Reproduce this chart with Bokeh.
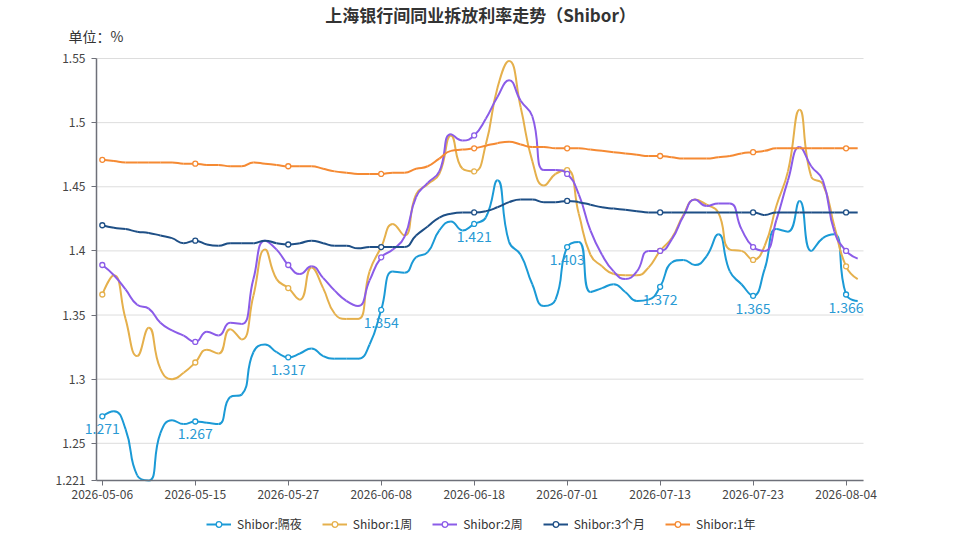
import math
from bokeh.plotting import figure
from bokeh.models import Range1d, FixedTicker, Legend, LegendItem, Label, LinearAxis, ColumnDataSource
from bokeh.core.properties import value
from bokeh.embed import file_html
from bokeh.resources import INLINE

# trading days shown on the chart
dates = [
    "2026-05-06", "2026-05-07", "2026-05-08", "2026-05-09", "2026-05-11", "2026-05-12", "2026-05-13", "2026-05-14",
    "2026-05-15", "2026-05-18", "2026-05-19", "2026-05-20", "2026-05-21", "2026-05-22", "2026-05-25", "2026-05-26",
    "2026-05-27", "2026-05-28", "2026-05-29", "2026-06-01", "2026-06-02", "2026-06-03", "2026-06-04", "2026-06-05",
    "2026-06-08", "2026-06-09", "2026-06-10", "2026-06-11", "2026-06-12", "2026-06-15", "2026-06-16", "2026-06-17",
    "2026-06-18", "2026-06-22", "2026-06-23", "2026-06-24", "2026-06-25", "2026-06-26", "2026-06-29", "2026-06-30",
    "2026-07-01", "2026-07-02", "2026-07-03", "2026-07-06", "2026-07-07", "2026-07-08", "2026-07-09", "2026-07-10",
    "2026-07-13", "2026-07-14", "2026-07-15", "2026-07-16", "2026-07-17", "2026-07-20", "2026-07-21", "2026-07-22",
    "2026-07-23", "2026-07-24", "2026-07-27", "2026-07-28", "2026-07-29", "2026-07-30", "2026-07-31", "2026-08-03",
    "2026-08-04", "2026-08-05",
]

overnight = [
    1.271, 1.275, 1.261, 1.225, 1.221, 1.258, 1.268, 1.265,
    1.267, 1.266, 1.265, 1.286, 1.288, 1.321, 1.327, 1.321,
    1.317, 1.320, 1.324, 1.318, 1.316, 1.316, 1.316, 1.327,
    1.354, 1.384, 1.383, 1.395, 1.399, 1.416, 1.423, 1.416,
    1.421, 1.426, 1.455, 1.407, 1.397, 1.374, 1.357, 1.362,
    1.403, 1.407, 1.368, 1.371, 1.374, 1.368, 1.361, 1.362,
    1.372, 1.391, 1.393, 1.389, 1.396, 1.413, 1.384, 1.374,
    1.365, 1.386, 1.417, 1.415, 1.439, 1.400, 1.410, 1.413,
    1.366, 1.361,
]
one_week = [
    1.366, 1.381, 1.347, 1.318, 1.340, 1.308, 1.300, 1.305,
    1.313, 1.323, 1.320, 1.339, 1.331, 1.365, 1.401, 1.378,
    1.371, 1.362, 1.387, 1.371, 1.351, 1.347, 1.347, 1.384,
    1.403, 1.421, 1.412, 1.444, 1.452, 1.460, 1.490, 1.464,
    1.462, 1.483, 1.527, 1.548, 1.512, 1.470, 1.451, 1.460,
    1.463, 1.429, 1.397, 1.388, 1.382, 1.381, 1.381, 1.387,
    1.400, 1.410, 1.428, 1.440, 1.436, 1.430, 1.401, 1.400,
    1.393, 1.404, 1.435, 1.462, 1.510, 1.458, 1.452, 1.419,
    1.388, 1.378,
]
two_week = [
    1.389, 1.381, 1.370, 1.358, 1.355, 1.344, 1.338, 1.334,
    1.329, 1.337, 1.334, 1.344, 1.343, 1.378, 1.408, 1.401,
    1.389, 1.382, 1.388, 1.379, 1.369, 1.361, 1.357, 1.377,
    1.395, 1.401, 1.411, 1.442, 1.453, 1.462, 1.491, 1.486,
    1.490, 1.503, 1.520, 1.533, 1.517, 1.505, 1.463, 1.463,
    1.460, 1.444, 1.416, 1.397, 1.384, 1.378, 1.384, 1.400,
    1.400, 1.409, 1.427, 1.440, 1.435, 1.437, 1.437, 1.417,
    1.403, 1.400, 1.424, 1.455, 1.481, 1.466, 1.455, 1.415,
    1.400, 1.394,
]
three_month = [
    1.420, 1.418, 1.417, 1.415, 1.414, 1.412, 1.410, 1.406,
    1.408, 1.405, 1.404, 1.406, 1.406, 1.406, 1.408, 1.406,
    1.405, 1.406, 1.408, 1.406, 1.404, 1.404, 1.402, 1.403,
    1.403, 1.403, 1.403, 1.412, 1.419, 1.426, 1.429, 1.430,
    1.430, 1.431, 1.434, 1.438, 1.440, 1.440, 1.438, 1.438,
    1.439, 1.438, 1.436, 1.434, 1.433, 1.432, 1.431, 1.430,
    1.430, 1.430, 1.430, 1.430, 1.430, 1.430, 1.430, 1.430,
    1.430, 1.428, 1.430, 1.430, 1.430, 1.430, 1.430, 1.430,
    1.430, 1.430,
]
one_year = [
    1.471, 1.470, 1.469, 1.469, 1.469, 1.469, 1.469, 1.468,
    1.468, 1.467, 1.467, 1.466, 1.466, 1.469, 1.468, 1.467,
    1.466, 1.466, 1.466, 1.464, 1.462, 1.461, 1.460, 1.460,
    1.460, 1.461, 1.461, 1.464, 1.466, 1.472, 1.478, 1.479,
    1.480, 1.482, 1.484, 1.485, 1.483, 1.481, 1.481, 1.480,
    1.480, 1.480, 1.479, 1.478, 1.477, 1.476, 1.475, 1.474,
    1.474, 1.473, 1.472, 1.472, 1.472, 1.473, 1.474, 1.476,
    1.477, 1.478, 1.480, 1.480, 1.480, 1.480, 1.480, 1.480,
    1.480, 1.480,
]

y_ticks = [1.221, 1.25, 1.3, 1.35, 1.4, 1.45, 1.5, 1.55]
y_tick_labels = ["1.221", "1.25", "1.3", "1.35", "1.4", "1.45", "1.5", "1.55"]

series = [
    ("Shibor:隔夜", overnight, "#1b9ad6"),
    ("Shibor:1周", one_week, "#e5b04c"),
    ("Shibor:2周", two_week, "#8b5ce8"),
    ("Shibor:3个月", three_month, "#1e4f86"),
    ("Shibor:1年", one_year, "#f58a33"),
]

STEP = 8          # every 8th day gets a tick, a marker and a label
FONT = "Noto Sans CJK SC"
W, H = 959, 540
# plot box inside the canvas (left, right, top, bottom in px)
BOX_L, BOX_R, BOX_T, BOX_B = 96, 863, 58, 480

n = len(dates)
y_lo, y_hi = y_ticks[0], y_ticks[-1]
SX = (BOX_R - BOX_L) / n            # px per day
SY = (BOX_B - BOX_T) / (y_hi - y_lo)  # px per percent
x_start = -0.5 - BOX_L / SX
x_end = n - 0.5 + (W - BOX_R) / SX
y_end = y_hi + BOX_T / SY
y_start = y_lo - (H - BOX_B) / SY


def px(xpix):
    return x_start + xpix / SX


def py(ypix):
    return y_end - ypix / SY


def smooth_segments(ys, smooth=0.5):
    """bezier control points like an echarts smooth line"""
    m = len(ys)
    xs = list(range(m))
    c_out = [(xs[i], ys[i]) for i in range(m)]
    c_in = [(xs[i], ys[i]) for i in range(m)]
    for k in range(1, m - 1):
        x, y = xs[k], ys[k]
        ppx, ppy = xs[k - 1], ys[k - 1]
        nx, ny = xs[k + 1], ys[k + 1]
        vx, vy = nx - ppx, ny - ppy
        l0 = math.hypot((x - ppx) * SX, (y - ppy) * SY)
        l1 = math.hypot((nx - x) * SX, (ny - y) * SY)
        r = l1 / (l0 + l1)
        ncx = x + vx * smooth * r
        ncy = y + vy * smooth * r
        ncx = max(min(ncx, max(nx, x)), min(nx, x))
        ncy = max(min(ncy, max(ny, y)), min(ny, y))
        vx, vy = ncx - x, ncy - y
        pcx = x - vx * l0 / l1
        pcy = y - vy * l0 / l1
        pcx = max(min(pcx, max(ppx, x)), min(ppx, x))
        pcy = max(min(pcy, max(ppy, y)), min(ppy, y))
        vx, vy = x - pcx, y - pcy
        ncx = x + vx * l1 / l0
        ncy = y + vy * l1 / l0
        c_in[k] = (pcx, pcy)
        c_out[k] = (ncx, ncy)
    return dict(
        x0=xs[:-1], y0=ys[:-1], x1=xs[1:], y1=ys[1:],
        cx0=[c[0] for c in c_out[:-1]], cy0=[c[1] for c in c_out[:-1]],
        cx1=[c[0] for c in c_in[1:]], cy1=[c[1] for c in c_in[1:]],
    )


p = figure(width=W, height=H, output_backend="svg", toolbar_location=None,
           x_range=Range1d(x_start, x_end), y_range=Range1d(y_start, y_end),
           x_axis_location=None, y_axis_location=None,
           min_border=0)
p.outline_line_color = None
p.background_fill_color = "white"
p.xgrid.visible = False
p.ygrid.visible = False

# horizontal grid lines
p.segment(x0=-0.5, x1=n - 0.5, y0=y_ticks, y1=y_ticks, line_color="#dddddd", line_width=1)

items = []
mark_idx = list(range(0, n, STEP))
for name, vals, color in series:
    seg = ColumnDataSource(smooth_segments(vals))
    line_r = p.bezier(x0="x0", y0="y0", x1="x1", y1="y1", cx0="cx0", cy0="cy0",
                      cx1="cx1", cy1="cy1", source=seg, line_color=color, line_width=2)
    dots = ColumnDataSource(dict(x=mark_idx, y=[vals[i] for i in mark_idx]))
    dot_r = p.scatter("x", "y", source=dots, marker="circle", size=5,
                      fill_color="white", line_color=color, line_width=1.3)
    items.append(LegendItem(label=name, renderers=[line_r, dot_r]))

# value labels on the overnight series
lab = ColumnDataSource(dict(x=mark_idx, y=[overnight[i] for i in mark_idx],
                            t=["%g" % overnight[i] for i in mark_idx]))
p.text("x", "y", text="t", source=lab, text_align="center", text_baseline="top",
       y_offset=7, text_font=value(FONT), text_font_size="14px", text_color="#2a9ad4")

# axes drawn at fixed spots inside the canvas
xax = LinearAxis(fixed_location=y_lo, bounds=(-0.5, n - 0.5),
                 ticker=FixedTicker(ticks=mark_idx),
                 major_label_overrides={i: dates[i] for i in mark_idx})
yax = LinearAxis(fixed_location=-0.5, bounds=(y_lo, y_hi),
                 ticker=FixedTicker(ticks=y_ticks),
                 major_label_overrides=dict(zip(y_ticks, y_tick_labels)))
for ax in (xax, yax):
    ax.axis_line_color = "#6e7079"
    ax.axis_line_width = 1.5
    ax.major_tick_line_color = "#6e7079"
    ax.major_tick_out = 5
    ax.major_tick_in = 0
    ax.minor_tick_line_color = None
    ax.major_label_text_font = FONT
    ax.major_label_text_font_size = "12px"
    ax.major_label_text_color = "#444444"
    ax.major_label_standoff = 6
xax.major_label_standoff = 4
p.add_layout(xax, "below")
p.add_layout(yax, "left")

# title and unit
p.add_layout(Label(x=px(480), y=py(14), text="上海银行间同业拆放利率走势（Shibor）",
                   text_align="center", text_baseline="middle", text_font=FONT,
                   text_font_size="17px", text_font_style="bold", text_color="#333333"))
p.add_layout(Label(x=px(68), y=py(35), text="单位：%", text_align="left",
                   text_baseline="middle", text_font=FONT, text_font_size="14px",
                   text_color="#333333"))

legend = Legend(items=items, orientation="horizontal", location=(206, 8),
                border_line_color=None, background_fill_alpha=0,
                label_text_font=FONT, label_text_font_size="12px", label_text_color="#333333",
                glyph_width=25, glyph_height=14, label_height=14, spacing=20, padding=0, margin=0,
                label_standoff=6)
p.add_layout(legend)

open("out.html", "w").write(file_html(p, INLINE))
